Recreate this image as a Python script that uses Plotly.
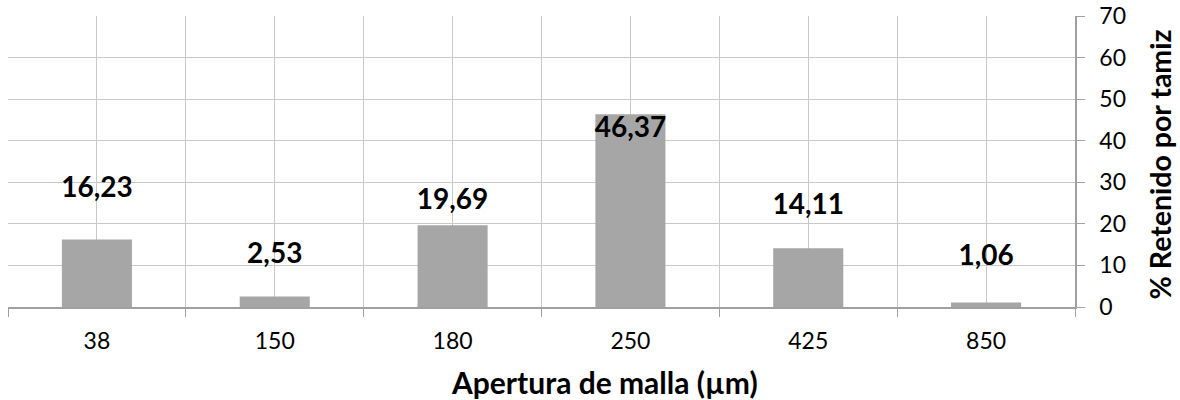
import plotly.graph_objects as go

# ---- data ----
categories = ["38", "150", "180", "250", "425", "850"]
retained_pct = [16.23, 2.53, 19.69, 46.37, 14.11, 1.06]
value_labels = ["16,23", "2,53", "19,69", "46,37", "14,11", "1,06"]
y_ticks = [0, 10, 20, 30, 40, 50, 60, 70]

# label placement offsets (value units, relative to bar top)
label_offsets = [11.97, 9.67, 5.61, -3.87, 9.89, 10.64]

FONT = "Lato"
GRID = "#C8C8C8"
AXIS = "#A0A0A0"

fig = go.Figure()
fig.add_trace(go.Bar(
    x=categories, y=retained_pct,
    marker=dict(color="#A6A6A6", line=dict(width=0)),
    showlegend=False, hoverinfo="skip",
))
fig.add_trace(go.Scatter(
    x=categories, y=[v + o for v, o in zip(retained_pct, label_offsets)],
    mode="text", text=value_labels, textposition="middle center",
    textfont=dict(family=FONT, size=28, color="black", weight="bold"),
    showlegend=False, hoverinfo="skip", cliponaxis=False,
))
# empty helper trace so the overlay axis (centre gridlines) is drawn
fig.add_trace(go.Scatter(x=[None], y=[None], xaxis="x2", mode="markers",
                         showlegend=False, hoverinfo="skip"))

fig.update_layout(
    width=1180, height=400,
    margin=dict(l=8, r=105, t=16, b=93, autoexpand=False),
    paper_bgcolor="white", plot_bgcolor="white",
    bargap=0.606,
    font=dict(family=FONT, color="black"),
    xaxis=dict(
        type="category", categoryorder="array", categoryarray=categories,
        tickson="boundaries", range=[-0.5, 5.5], automargin=False,
        showgrid=True, gridcolor=GRID, gridwidth=1,
        showline=True, linecolor=AXIS, linewidth=1.5,
        ticks="outside", ticklen=8, tickcolor=AXIS,
        ticklabelstandoff=13,
        tickfont=dict(family=FONT, size=23, color="black"),
        zeroline=False,
    ),
    xaxis2=dict(
        overlaying="x", range=[-0.5, 5.5], tick0=0, dtick=1,
        showgrid=True, gridcolor=GRID, gridwidth=1, automargin=False,
        showticklabels=False, ticks="", showline=False, zeroline=False,
    ),
    yaxis=dict(
        side="right", range=[0, 70], tickvals=y_ticks, automargin=False,
        showgrid=True, gridcolor=GRID, gridwidth=1,
        showline=True, linecolor=AXIS, linewidth=1.5,
        ticks="outside", ticklen=8, tickcolor=AXIS,
        ticklabelstandoff=10,
        tickfont=dict(family=FONT, size=23, color="black"),
        zeroline=False,
    ),
    annotations=[
        dict(text="<b>Apertura de malla (µm)</b>", xref="paper", yref="paper",
             x=0.5595, y=-0.258, xanchor="center", yanchor="middle",
             showarrow=False, font=dict(family=FONT, size=30, color="black")),
        dict(text="<b>% Retenido por tamiz</b>", xref="paper", yref="paper",
             x=1.0797, y=0.49, xanchor="center", yanchor="middle", textangle=-90,
             showarrow=False, font=dict(family=FONT, size=28.5, color="black")),
    ],
)

fig.write_html("out.html", config={"displayModeBar": False},
               post_script="document.body.style.margin='0';document.body.style.overflow='hidden';")
